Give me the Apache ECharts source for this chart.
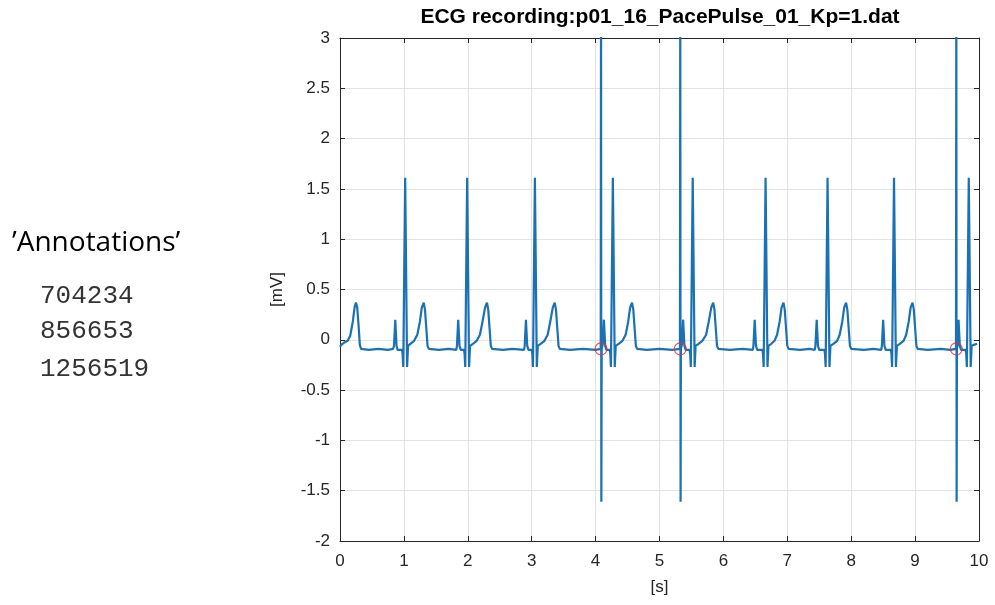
<!DOCTYPE html>
<html>
<head>
<meta charset="utf-8">
<script src="https://cdn.jsdelivr.net/npm/echarts@6/dist/echarts.min.js"></script>
<style>
  html, body { margin: 0; padding: 0; background: #fff; }
  #plot { width: 995px; height: 605px; }
</style>
</head>
<body>
<div id="plot"></div>
<script>
// ECG trace, [time s, mV]
var ecgPoints = [
  [0.00,-0.07],[0.02,-0.05],[0.06,-0.03],[0.12,-0.01],[0.16,0.04],[0.20,0.18],[0.23,0.33],[0.25,0.37],[0.27,0.32],[0.29,0.15],[0.31,-0.05],[0.33,-0.09],[0.45,-0.10],[0.60,-0.09],[0.75,-0.10],[0.83,-0.09],
  // beat 1
  [0.845,-0.06],[0.865,0.2],[0.885,-0.06],[0.90,-0.10],[0.97,-0.10],[0.98,-0.14],[0.99,-0.27],[1.02,1.61],[1.05,-0.27],[1.065,-0.06],[1.10,-0.04],[1.16,-0.01],[1.21,0.05],[1.25,0.18],[1.28,0.32],[1.31,0.37],[1.33,0.30],[1.35,0.12],[1.37,-0.06],[1.39,-0.09],[1.55,-0.10],[1.70,-0.09],[1.82,-0.10],
  // beat 2
  [1.83,-0.06],[1.85,0.2],[1.87,-0.06],[1.89,-0.10],[1.94,-0.10],[1.95,-0.14],[1.96,-0.27],[1.99,1.61],[2.02,-0.27],[2.035,-0.06],[2.08,-0.04],[2.14,-0.01],[2.19,0.05],[2.23,0.18],[2.27,0.32],[2.30,0.37],[2.32,0.30],[2.34,0.12],[2.36,-0.06],[2.38,-0.09],[2.55,-0.10],[2.70,-0.09],[2.88,-0.10],
  // beat 3
  [2.89,-0.06],[2.91,0.2],[2.93,-0.06],[2.95,-0.10],[3.00,-0.10],[3.01,-0.14],[3.02,-0.27],[3.05,1.61],[3.08,-0.27],[3.095,-0.06],[3.14,-0.04],[3.20,-0.01],[3.25,0.05],[3.29,0.18],[3.33,0.32],[3.36,0.37],[3.38,0.30],[3.40,0.12],[3.42,-0.06],[3.44,-0.09],[3.60,-0.10],[3.80,-0.09],[4.00,-0.10],[4.08,-0.09],
  // beat 4 (paced)
  [4.085,3.5],[4.09,-1.61],[4.095,-0.09],[4.11,-0.05],[4.13,0.2],[4.15,-0.06],[4.17,-0.10],[4.22,-0.10],[4.23,-0.14],[4.24,-0.27],[4.27,1.61],[4.30,-0.27],[4.315,-0.06],[4.36,-0.04],[4.42,-0.01],[4.47,0.05],[4.51,0.18],[4.54,0.32],[4.57,0.37],[4.59,0.30],[4.61,0.12],[4.63,-0.06],[4.65,-0.09],[4.80,-0.10],[5.00,-0.09],[5.20,-0.10],[5.32,-0.09],
  // beat 5 (paced)
  [5.325,3.5],[5.33,-1.61],[5.335,-0.09],[5.35,-0.05],[5.37,0.2],[5.39,-0.06],[5.41,-0.10],[5.47,-0.10],[5.48,-0.14],[5.49,-0.27],[5.52,1.61],[5.55,-0.27],[5.565,-0.06],[5.61,-0.04],[5.67,-0.01],[5.73,0.05],[5.77,0.18],[5.81,0.32],[5.84,0.37],[5.86,0.30],[5.88,0.12],[5.90,-0.06],[5.92,-0.09],[6.10,-0.10],[6.30,-0.09],[6.46,-0.10],
  // beat 6
  [6.47,-0.06],[6.49,0.2],[6.51,-0.06],[6.53,-0.10],[6.61,-0.10],[6.62,-0.14],[6.63,-0.27],[6.66,1.61],[6.69,-0.27],[6.705,-0.06],[6.75,-0.04],[6.80,-0.01],[6.84,0.05],[6.88,0.18],[6.91,0.32],[6.94,0.37],[6.96,0.30],[6.98,0.12],[7.00,-0.06],[7.02,-0.09],[7.20,-0.10],[7.35,-0.09],[7.43,-0.10],
  // beat 7
  [7.44,-0.06],[7.46,0.2],[7.48,-0.06],[7.50,-0.10],[7.58,-0.10],[7.59,-0.14],[7.60,-0.27],[7.63,1.61],[7.66,-0.27],[7.675,-0.06],[7.72,-0.04],[7.78,-0.01],[7.82,0.05],[7.86,0.18],[7.89,0.32],[7.92,0.37],[7.94,0.30],[7.96,0.12],[7.98,-0.06],[8.00,-0.09],[8.20,-0.10],[8.35,-0.09],[8.47,-0.10],
  // beat 8
  [8.48,-0.06],[8.50,0.2],[8.52,-0.06],[8.54,-0.10],[8.62,-0.10],[8.63,-0.14],[8.64,-0.27],[8.67,1.61],[8.70,-0.27],[8.715,-0.06],[8.76,-0.04],[8.82,-0.01],[8.86,0.05],[8.90,0.18],[8.93,0.32],[8.96,0.37],[8.98,0.30],[9.00,0.12],[9.02,-0.06],[9.04,-0.09],[9.20,-0.10],[9.40,-0.09],[9.55,-0.10],[9.64,-0.09],
  // beat 9 (paced)
  [9.645,3.5],[9.65,-1.61],[9.655,-0.09],[9.665,-0.05],[9.68,0.2],[9.70,-0.06],[9.72,-0.10],[9.79,-0.10],[9.80,-0.14],[9.81,-0.27],[9.84,1.61],[9.87,-0.27],[9.885,-0.06],[9.92,-0.05],[9.97,-0.04]
];

// detected pace pulses (red circles)
var paceTimes = [4.085, 5.325, 9.645];
var paceMv = [-0.09, -0.09, -0.09];

var annotationTitle = '\u2019Annotations\u2019';
var annotations = ['704234', '856653', '1256519'];

var chartTitle = 'ECG recording:p01_16_PacePulse_01_Kp=1.dat';

var myChart = echarts.init(document.getElementById('plot'));

var axisColor = '#262626';
var labelFont = { color: axisColor, fontSize: 17, fontFamily: 'Liberation Sans, Arial, sans-serif' };

var graphics = [{
  type: 'text', x: 660, y: 17,
  style: { text: chartTitle, fill: '#000', fontSize: 21, fontWeight: 'bold', fontFamily: 'Liberation Sans, Arial, sans-serif', align: 'center', verticalAlign: 'middle' }
}, {
  type: 'text', left: 12, top: 229,
  style: { text: annotationTitle, fill: '#000', fontSize: 28, fontFamily: 'Open Sans, sans-serif' }
}];
annotations.forEach(function (a, i) {
  graphics.push({
    type: 'text', left: 40, top: [283, 318, 356][i],
    style: { text: a, fill: '#333', fontSize: 26, fontFamily: 'Liberation Mono, monospace' }
  });
});

var option = {
  animation: false,
  backgroundColor: '#fff',
  grid: { left: 340, right: 16, top: 38, bottom: 64 },
  graphic: graphics,
  xAxis: [{
    type: 'value', min: 0, max: 10, interval: 1,
    name: '[s]', nameLocation: 'middle', nameGap: 38,
    nameTextStyle: labelFont,
    axisLine: { show: true, onZero: false, lineStyle: { color: axisColor } },
    axisTick: { inside: true, length: 5, lineStyle: { color: axisColor } },
    axisLabel: Object.assign({ margin: 12 }, labelFont),
    splitLine: { show: true, lineStyle: { color: '#e3e3e3' } }
  }, {
    type: 'value', min: 0, max: 10, interval: 1, position: 'top',
    axisLine: { show: true, onZero: false, lineStyle: { color: axisColor } },
    axisTick: { inside: true, length: 5, lineStyle: { color: axisColor } },
    axisLabel: { show: false }, splitLine: { show: false }
  }],
  yAxis: [{
    type: 'value', min: -2, max: 3, interval: 0.5,
    name: '[mV]', nameLocation: 'middle', nameGap: 54,
    nameTextStyle: labelFont,
    axisLine: { show: true, onZero: false, lineStyle: { color: axisColor } },
    axisTick: { show: true, inside: true, length: 5, lineStyle: { color: axisColor } },
    axisLabel: Object.assign({ margin: 10 }, labelFont),
    splitLine: { show: true, lineStyle: { color: '#e3e3e3' } }
  }, {
    type: 'value', min: -2, max: 3, interval: 0.5, position: 'right',
    axisLine: { show: true, onZero: false, lineStyle: { color: axisColor } },
    axisTick: { show: true, inside: true, length: 5, lineStyle: { color: axisColor } },
    axisLabel: { show: false }, splitLine: { show: false }
  }],
  series: [{
    type: 'line',
    data: ecgPoints,
    showSymbol: false,
    clip: true,
    lineStyle: { color: '#1a72b4', width: 2.2 },
    z: 2
  }, {
    type: 'scatter',
    data: paceTimes.map(function (t, i) { return [t, paceMv[i]]; }),
    symbol: 'circle',
    symbolSize: 12,
    itemStyle: { color: 'rgba(0,0,0,0)', borderColor: '#e0303a', borderWidth: 1.3 },
    z: 3
  }]
};

myChart.setOption(option);
</script>
</body>
</html>
